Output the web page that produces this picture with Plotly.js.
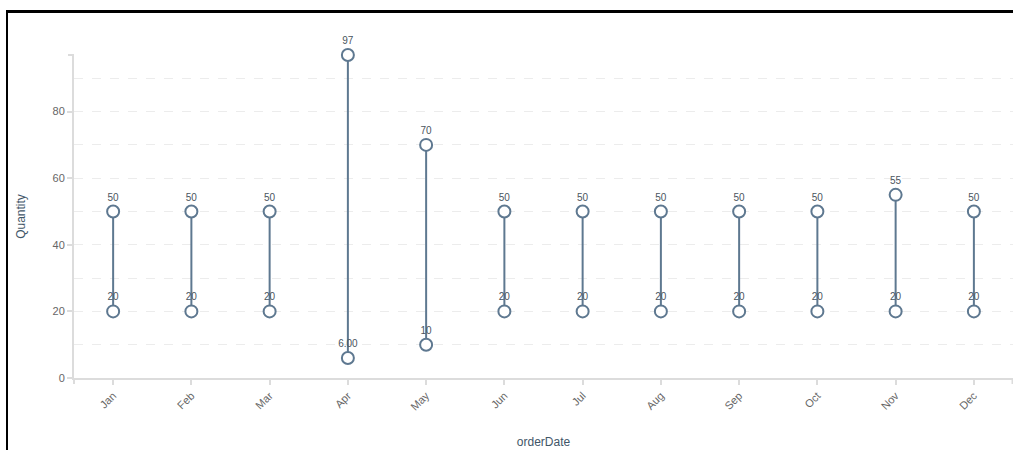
<!DOCTYPE html>
<html>
<head>
<meta charset="utf-8">
<script src="https://cdn.plot.ly/plotly-3.0.1.min.js"></script>
<style>
  html, body { margin: 0; padding: 0; background: #fff; }
  #wrap { position: relative; width: 1013px; height: 450px; overflow: hidden; }
  #chart { position: absolute; left: 0; top: 0; width: 1013px; height: 450px; }
  #frame { position: absolute; left: 6px; top: 10px; width: 1100px; height: 500px;
           border-left: 2px solid #000; border-top: 3px solid #000; pointer-events: none; }
</style>
</head>
<body>
<div id="wrap">
  <div id="chart"></div>
  <div id="frame"></div>
</div>
<script>
const months = ["Jan","Feb","Mar","Apr","May","Jun","Jul","Aug","Sep","Oct","Nov","Dec"];
const lowValues  = [20, 20, 20, 6, 10, 20, 20, 20, 20, 20, 20, 20];
const highValues = [50, 50, 50, 97, 70, 50, 50, 50, 50, 50, 55, 50];
const lowLabels  = ["20","20","20","6.00","10","20","20","20","20","20","20","20"];
const highLabels = ["50","50","50","97","70","50","50","50","50","50","55","50"];
const yTicks = [0, 20, 40, 60, 80];

const strokeColor = "#5e7890";
const font = "Arial, 'Liberation Sans', sans-serif";

const lx = [], ly = [];
months.forEach((m, i) => {
  lx.push(m, m, null);
  ly.push(lowValues[i], highValues[i], null);
});

const traces = [
  {
    x: lx, y: ly, mode: "lines", type: "scatter",
    line: { color: strokeColor, width: 2 },
    hoverinfo: "skip", showlegend: false, connectgaps: false
  },
  {
    x: months, y: lowValues, mode: "markers+text", type: "scatter",
    text: lowLabels, textposition: "top center",
    textfont: { family: font, size: 10, color: "#4a5560" },
    marker: { size: 12, color: "#ffffff", line: { color: strokeColor, width: 2 } },
    showlegend: false, cliponaxis: false
  },
  {
    x: months, y: highValues, mode: "markers+text", type: "scatter",
    text: highLabels, textposition: "top center",
    textfont: { family: font, size: 10, color: "#4a5560" },
    marker: { size: 12, color: "#ffffff", line: { color: strokeColor, width: 2 } },
    showlegend: false, cliponaxis: false
  }
];

const axisColor = "#dcdcdc";
const layout = {
  width: 1013, height: 450,
  margin: { l: 74, r: 0, t: 55, b: 72 },
  paper_bgcolor: "#ffffff", plot_bgcolor: "#ffffff",
  font: { family: font, size: 11, color: "#666" },
  showlegend: false,
  xaxis: {
    type: "category", categoryorder: "array", categoryarray: months,
    range: [-0.5, 11.5],
    showline: true, linecolor: axisColor, linewidth: 2,
    ticks: "outside", ticklen: 5, tickcolor: axisColor, tickwidth: 2,
    tickangle: -45, showgrid: false, zeroline: false,
    tickfont: { family: font, size: 11, color: "#666" },
    title: { text: "orderDate", font: { family: font, size: 12, color: "#3f5668" }, standoff: 26 }
  },
  yaxis: {
    range: [0, 97],
    tickmode: "array", tickvals: yTicks, ticktext: yTicks.map(String),
    showline: true, linecolor: axisColor, linewidth: 2,
    ticks: "outside", ticklen: 5, tickcolor: axisColor, tickwidth: 2,
    showgrid: true, gridcolor: "#ececec", griddash: "dash", gridwidth: 1,
    minor: { dtick: 10, tick0: 0, showgrid: true, gridcolor: "#ececec", griddash: "dash", gridwidth: 1, ticks: "" },
    zeroline: false,
    tickfont: { family: font, size: 11, color: "#666" },
    title: { text: "Quantity", font: { family: font, size: 12, color: "#3f5668" }, standoff: 24 }
  },
  shapes: [
    { type: "line", xref: "paper", yref: "paper", xsizemode: "pixel", xanchor: 0, x0: -6, x1: 0, y0: 1, y1: 1,
      line: { color: axisColor, width: 2 } },
    { type: "line", xref: "paper", yref: "paper", ysizemode: "pixel", yanchor: 0, x0: 0, x1: 0, y0: 0, y1: -6,
      line: { color: axisColor, width: 2 } },
    { type: "line", xref: "paper", yref: "paper", ysizemode: "pixel", yanchor: 0, x0: 0.9995, x1: 0.9995, y0: 0, y1: -6,
      line: { color: axisColor, width: 2 } }
  ]
};

Plotly.newPlot("chart", traces, layout, { displayModeBar: false, staticPlot: true });
</script>
</body>
</html>
